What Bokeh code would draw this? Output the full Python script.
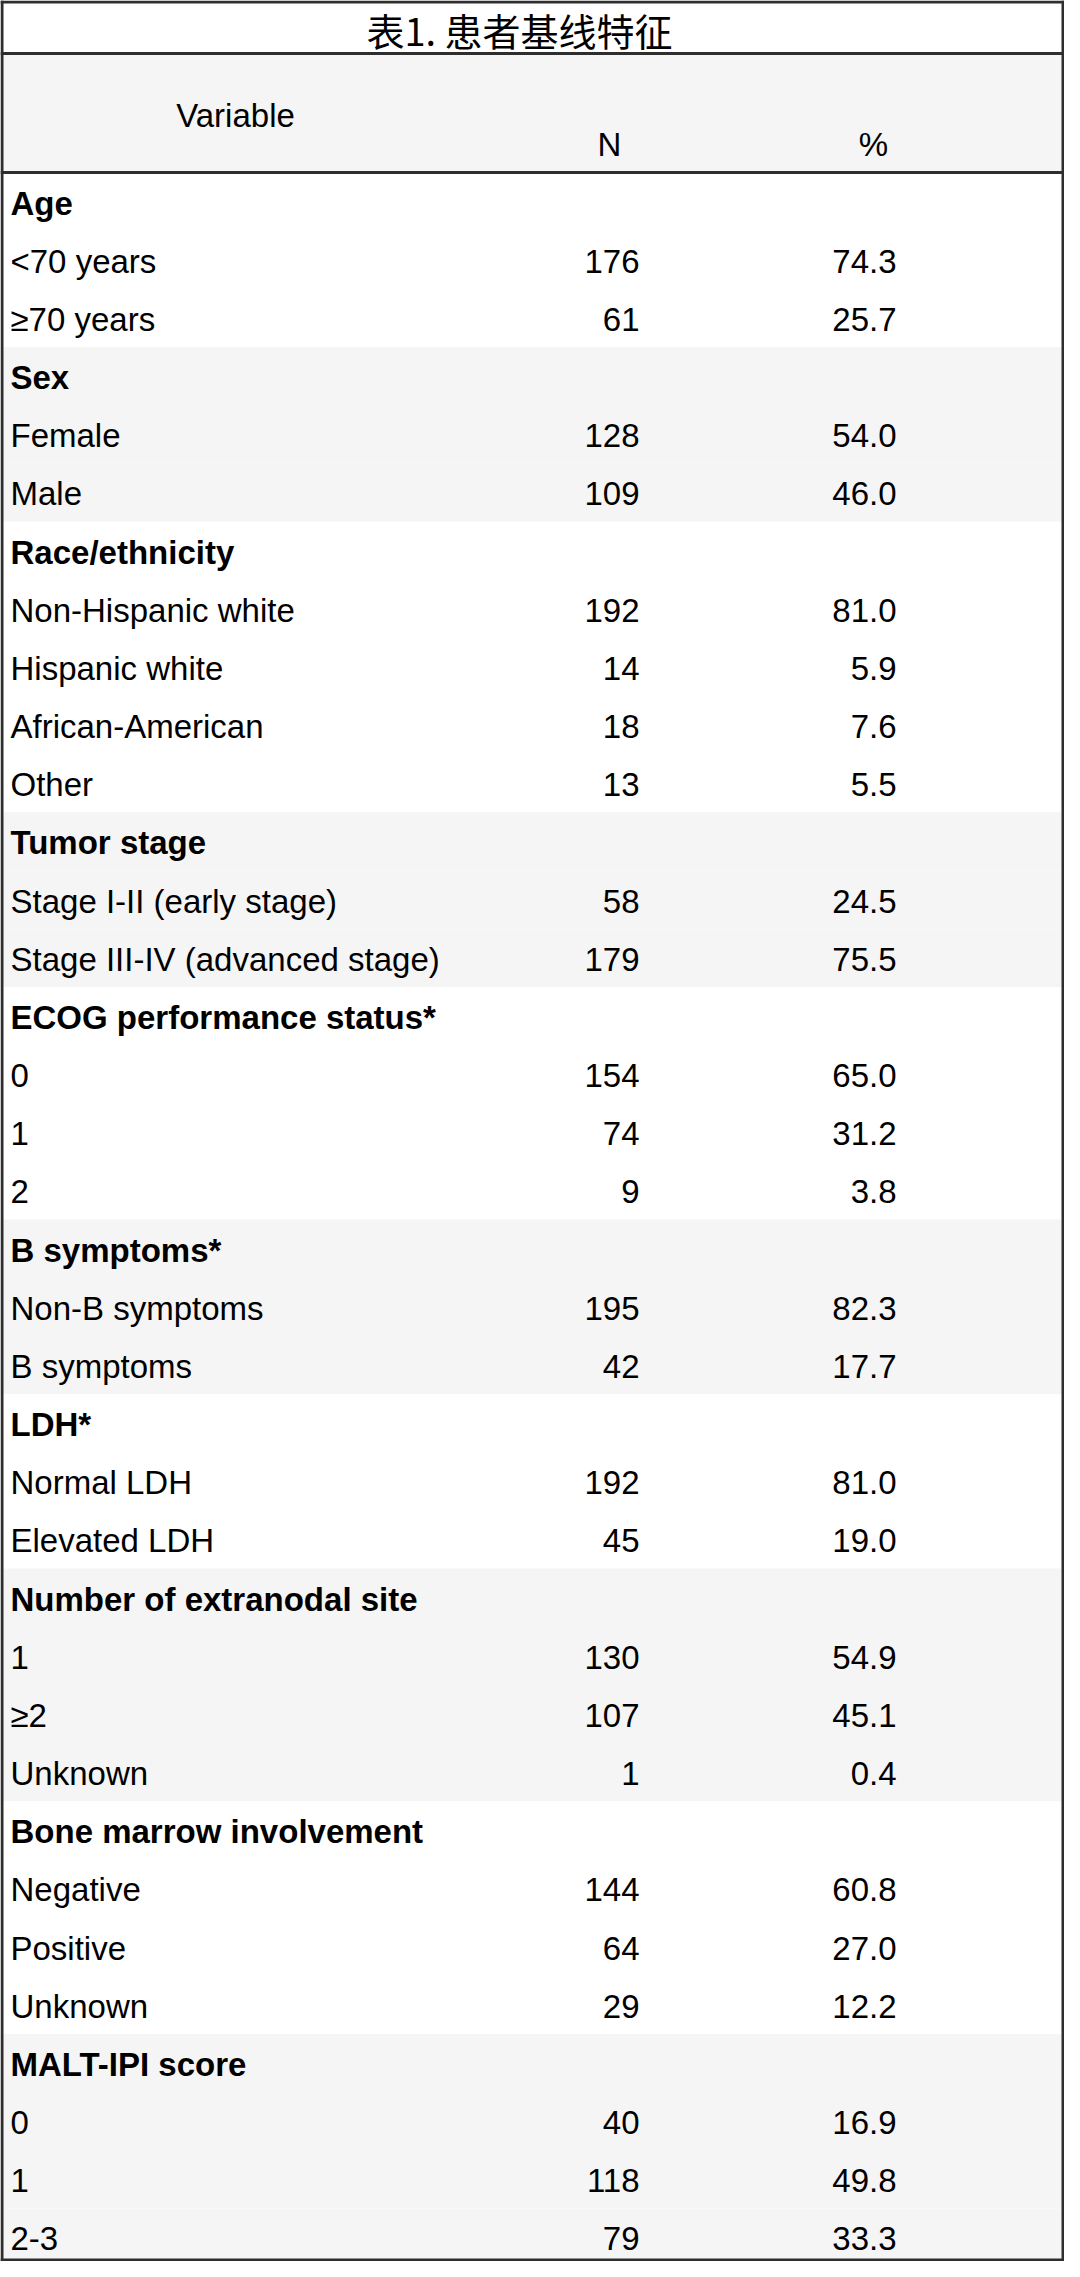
from bokeh.plotting import figure
from bokeh.models import Range1d, ColumnDataSource
from bokeh.core.properties import value
from bokeh.embed import file_html
from bokeh.resources import INLINE

# ---------------- data ----------------
title_text = "表1. 患者基线特征"
col_headers = ["Variable", "N", "%"]

group_names = ["Age", "Sex", "Race/ethnicity", "Tumor stage",
               "ECOG performance status*", "B symptoms*", "LDH*",
               "Number of extranodal site", "Bone marrow involvement",
               "MALT-IPI score"]

item_labels = ["<70 years", "≥70 years",
               "Female", "Male",
               "Non-Hispanic white", "Hispanic white", "African-American", "Other",
               "Stage I-II (early stage)", "Stage III-IV (advanced stage)",
               "0", "1", "2",
               "Non-B symptoms", "B symptoms",
               "Normal LDH", "Elevated LDH",
               "1", "≥2", "Unknown",
               "Negative", "Positive", "Unknown",
               "0", "1", "2-3"]
item_n = [176, 61, 128, 109, 192, 14, 18, 13, 58, 179, 154, 74, 9,
          195, 42, 192, 45, 130, 107, 1, 144, 64, 29, 40, 118, 79]
item_pct = [74.3, 25.7, 54.0, 46.0, 81.0, 5.9, 7.6, 5.5, 24.5, 75.5, 65.0, 31.2, 3.8,
            82.3, 17.7, 81.0, 19.0, 54.9, 45.1, 0.4, 60.8, 27.0, 12.2, 16.9, 49.8, 33.3]
item_group = [0, 0, 1, 1, 2, 2, 2, 2, 3, 3, 4, 4, 4, 5, 5, 6, 6, 7, 7, 7, 8, 8, 8, 9, 9, 9]

# ---------------- layout ----------------
FIG_W, FIG_H = 1064, 2261
X0, X1 = 4, 4 + FIG_W
Y0, Y1 = 8, 8 + FIG_H
TITLE_BOTTOM = 61
HEADER_BOTTOM = 180
ROW_H = 58.17
LABEL_X = 14
N_RIGHT = 643
PCT_RIGHT = 900
BASE_OFF = 30.5
SHADE = "#f5f5f5"
LINE = "#2e2e2e"
FS = value("33px")
FONT = value("Liberation Sans")

p = figure(width=FIG_W, height=FIG_H,
           x_range=Range1d(X0, X1), y_range=Range1d(Y1, Y0),
           output_backend="svg", toolbar_location=None, min_border=0,
           x_axis_location=None, y_axis_location=None)
p.grid.visible = False
p.outline_line_color = None
p.background_fill_color = "white"
p.border_fill_color = "white"

# build rows
rows_label, rows_n, rows_pct, rows_bold, rows_shade = [], [], [], [], []
for gi, g in enumerate(group_names):
    rows_label.append(g); rows_n.append(""); rows_pct.append("")
    rows_bold.append(True); rows_shade.append(gi % 2 == 1)
    for lab, n, pc, grp in zip(item_labels, item_n, item_pct, item_group):
        if grp == gi:
            rows_label.append(lab); rows_n.append(str(n)); rows_pct.append(f"{pc:.1f}")
            rows_bold.append(False); rows_shade.append(gi % 2 == 1)

tops = [HEADER_BOTTOM + i * ROW_H for i in range(len(rows_label))]
bottom = Y1 - 1.5

# shaded backgrounds
sh_top = [t for t, s in zip(tops, rows_shade) if s]
sh_bot = [min(t + ROW_H, bottom) for t, s in zip(tops, rows_shade) if s]
p.quad(left=X0, right=X1, top=sh_top, bottom=sh_bot, fill_color=SHADE, line_color=None)
p.quad(left=X0, right=X1, top=TITLE_BOTTOM, bottom=HEADER_BOTTOM, fill_color=SHADE, line_color=None)

# title
p.text(x=[523], y=[36.5], text=[title_text], text_font=value("Noto Sans CJK SC"),
       text_font_size=value("38px"), text_align="center", text_baseline="middle",
       text_color="black")

# column headers
p.text(x=[239], y=[123], text=[col_headers[0]], text_font=FONT, text_font_size=FS,
       text_align="center", text_baseline="alphabetic", text_color="black")
p.text(x=[613, 877], y=[152, 152], text=col_headers[1:], text_font=FONT, text_font_size=FS,
       text_align="center", text_baseline="alphabetic", text_color="black")

# body text
src = ColumnDataSource(dict(
    y=[t + BASE_OFF for t in tops],
    label=rows_label, n=rows_n, pct=rows_pct,
    style=["bold" if b else "normal" for b in rows_bold],
))
p.text(x=LABEL_X, y="y", text="label", source=src, text_font=FONT, text_font_size=FS,
       text_font_style="style", text_align="left", text_baseline="alphabetic", text_color="black")
p.text(x=N_RIGHT, y="y", text="n", source=src, text_font=FONT, text_font_size=FS,
       text_align="right", text_baseline="alphabetic", text_color="black")
p.text(x=PCT_RIGHT, y="y", text="pct", source=src, text_font=FONT, text_font_size=FS,
       text_align="right", text_baseline="alphabetic", text_color="black")

# borders
left, right, top = X0 + 1.5, X1 - 1.5, Y0 + 1.5
p.segment(x0=[left, right, X0, X0, X0, X0],
          y0=[Y0, Y0, top, bottom, TITLE_BOTTOM, HEADER_BOTTOM],
          x1=[left, right, X1, X1, X1, X1],
          y1=[Y1, Y1, top, bottom, TITLE_BOTTOM, HEADER_BOTTOM],
          line_color=LINE, line_width=3)

open("out.html", "w").write(file_html(p, INLINE))
